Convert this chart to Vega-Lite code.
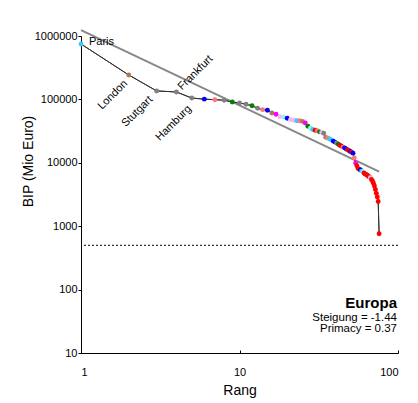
{
  "$schema": "https://vega.github.io/schema/vega-lite/v6.json",
  "autosize": {"type": "none"},
  "padding": {"left": 81, "top": 36, "right": 20, "bottom": 50},
  "width": 317,
  "height": 317,
  "background": "white",
  "config": {
    "view": {"stroke": null},
    "font": "Liberation Sans",
    "axis": {
      "grid": false,
      "domainColor": "black",
      "domainWidth": 1,
      "tickColor": "black",
      "labelColor": "black",
      "titleColor": "black",
      "labelFont": "Liberation Sans",
      "titleFont": "Liberation Sans",
      "labelFontSize": 11,
      "titleFontSize": 14,
      "titleFontWeight": "normal"
    }
  },
  "datasets": {
    "staedte": [
      {"rang": 1, "bip": 748000, "land": "FR", "name": "Paris"},
      {"rang": 2, "bip": 243000, "land": "UK", "name": "London"},
      {"rang": 3, "bip": 136000, "land": "DE", "name": "Stutgart"},
      {"rang": 4, "bip": 131000, "land": "DE", "name": "Frankfurt"},
      {"rang": 5, "bip": 105000, "land": "DE", "name": "Hamburg"},
      {"rang": 6, "bip": 101000, "land": "ES"},
      {"rang": 7, "bip": 99000, "land": "IT"},
      {"rang": 8, "bip": 97000, "land": "DE"},
      {"rang": 9, "bip": 91000, "land": "NL"},
      {"rang": 10, "bip": 88000, "land": "DE"},
      {"rang": 11, "bip": 83700, "land": "DE"},
      {"rang": 12, "bip": 79600, "land": "NL"},
      {"rang": 13, "bip": 72400, "land": "DE"},
      {"rang": 14, "bip": 68900, "land": "IT"},
      {"rang": 15, "bip": 67400, "land": "ES"},
      {"rang": 16, "bip": 61000, "land": "UK"},
      {"rang": 17, "bip": 58200, "land": "BE"},
      {"rang": 18, "bip": 53400, "land": "AT"},
      {"rang": 19, "bip": 52800, "land": "SE"},
      {"rang": 20, "bip": 50300, "land": "ES"},
      {"rang": 21, "bip": 47900, "land": "AT"},
      {"rang": 22, "bip": 47000, "land": "AT"},
      {"rang": 23, "bip": 46100, "land": "FR"},
      {"rang": 24, "bip": 46000, "land": "IT"},
      {"rang": 25, "bip": 45000, "land": "UK"},
      {"rang": 26, "bip": 42400, "land": "BE"},
      {"rang": 27, "bip": 37700, "land": "NL"},
      {"rang": 28, "bip": 35000, "land": "SE"},
      {"rang": 29, "bip": 33500, "land": "FR"},
      {"rang": 30, "bip": 32600, "land": "PL"},
      {"rang": 31, "bip": 32000, "land": "IT"},
      {"rang": 32, "bip": 30800, "land": "NL"},
      {"rang": 33, "bip": 30000, "land": "AT"},
      {"rang": 34, "bip": 29200, "land": "DE"},
      {"rang": 35, "bip": 25200, "land": "UK"},
      {"rang": 36, "bip": 24700, "land": "IT"},
      {"rang": 37, "bip": 23800, "land": "FR"},
      {"rang": 38, "bip": 23000, "land": "FR"},
      {"rang": 39, "bip": 22000, "land": "ES"},
      {"rang": 40, "bip": 21200, "land": "ES"},
      {"rang": 41, "bip": 20500, "land": "DE"},
      {"rang": 42, "bip": 19600, "land": "NL"},
      {"rang": 43, "bip": 18900, "land": "PL"},
      {"rang": 44, "bip": 18300, "land": "PL"},
      {"rang": 45, "bip": 17700, "land": "IT"},
      {"rang": 46, "bip": 17200, "land": "ES"},
      {"rang": 47, "bip": 16600, "land": "ES"},
      {"rang": 48, "bip": 16100, "land": "PL"},
      {"rang": 49, "bip": 15600, "land": "PL"},
      {"rang": 50, "bip": 15100, "land": "ES"},
      {"rang": 51, "bip": 14700, "land": "PL"},
      {"rang": 52, "bip": 14200, "land": "ES"},
      {"rang": 53, "bip": 12000, "land": "IT"},
      {"rang": 54, "bip": 9900, "land": "BE"},
      {"rang": 55, "bip": 9000, "land": "PL"},
      {"rang": 56, "bip": 8100, "land": "PL"},
      {"rang": 57, "bip": 7900, "land": "PL"},
      {"rang": 58, "bip": 7700, "land": "ES"},
      {"rang": 59, "bip": 7400, "land": "FR"},
      {"rang": 60, "bip": 7150, "land": "SE"},
      {"rang": 61, "bip": 6900, "land": "PL"},
      {"rang": 62, "bip": 6650, "land": "PL"},
      {"rang": 63, "bip": 6550, "land": "PL"},
      {"rang": 64, "bip": 6350, "land": "PL"},
      {"rang": 65, "bip": 6150, "land": "PL"},
      {"rang": 66, "bip": 6000, "land": "PL"},
      {"rang": 67, "bip": 5800, "land": "AT"},
      {"rang": 68, "bip": 5450, "land": "PL"},
      {"rang": 69, "bip": 5150, "land": "PL"},
      {"rang": 70, "bip": 4750, "land": "PL"},
      {"rang": 71, "bip": 4300, "land": "PL"},
      {"rang": 72, "bip": 3800, "land": "PL"},
      {"rang": 73, "bip": 3300, "land": "PL"},
      {"rang": 74, "bip": 2900, "land": "PL"},
      {"rang": 75, "bip": 2450, "land": "PL"},
      {"rang": 76, "bip": 760, "land": "PL"}
    ],
    "trend": [
      {"rang": 1, "bip": 1240000},
      {"rang": 76, "bip": 7240}
    ],
    "eins": [{}]
  },
  "layer": [
    {
      "data": {"name": "staedte"},
      "mark": {"type": "line", "color": "#333333", "strokeWidth": 1},
      "encoding": {
        "x": {
          "field": "rang", "type": "quantitative",
          "scale": {"type": "log", "domain": [1, 100]},
          "axis": {"title": "Rang", "values": [1, 10, 100], "format": "d", "tickSize": -3, "labelPadding": 16, "titlePadding": 6}
        },
        "y": {
          "field": "bip", "type": "quantitative",
          "scale": {"type": "log", "domain": [10, 1000000]},
          "axis": {"title": "BIP (Mio Euro)", "values": [10, 100, 1000, 10000, 100000, 1000000], "format": "d", "tickSize": 3, "labelPadding": 1, "titleAngle": 270, "titleAlign": "center", "titleBaseline": "middle", "titleX": -53, "titleY": 125}
        },
        "order": {"field": "rang"}
      }
    },
    {
      "data": {"name": "eins"},
      "mark": {"type": "rule", "color": "black", "strokeWidth": 1, "strokeDash": [2, 2]},
      "encoding": {"y": {"datum": 500, "type": "quantitative"}}
    },
    {
      "data": {"name": "trend"},
      "mark": {"type": "line", "color": "#888888", "strokeWidth": 2},
      "encoding": {
        "x": {"field": "rang", "type": "quantitative", "title": "Rang"},
        "y": {"field": "bip", "type": "quantitative", "title": "BIP (Mio Euro)"}
      }
    },
    {
      "data": {"name": "staedte"},
      "mark": {"type": "line", "color": "#333333", "strokeWidth": 1},
      "encoding": {
        "x": {"field": "rang", "type": "quantitative", "title": "Rang"},
        "y": {"field": "bip", "type": "quantitative", "title": "BIP (Mio Euro)"},
        "order": {"field": "rang"}
      }
    },
    {
      "data": {"name": "staedte"},
      "mark": {"type": "circle", "size": 24, "opacity": 1},
      "encoding": {
        "x": {"field": "rang", "type": "quantitative", "title": "Rang"},
        "y": {"field": "bip", "type": "quantitative", "title": "BIP (Mio Euro)"},
        "color": {
          "field": "land", "type": "nominal", "legend": null,
          "scale": {
            "domain": ["FR", "UK", "DE", "ES", "IT", "NL", "BE", "AT", "SE", "PL"],
            "range": ["#33CCFF", "#B07850", "#808080", "#0000FF", "#FF7878", "#008000", "#FF00FF", "#F5B8F5", "#99F0F0", "#FF0000"]
          }
        }
      }
    },
    {
      "data": {"name": "staedte"},
      "transform": [{"filter": "datum.name == 'Paris'"}],
      "mark": {"type": "text", "align": "left", "baseline": "alphabetic", "dx": 8, "dy": 1, "fontSize": 11, "color": "black"},
      "encoding": {
        "x": {"field": "rang", "type": "quantitative", "title": "Rang"},
        "y": {"field": "bip", "type": "quantitative", "title": "BIP (Mio Euro)"},
        "text": {"field": "name"}
      }
    },
    {
      "data": {"name": "staedte"},
      "transform": [{"filter": "datum.name == 'London'"}],
      "mark": {"type": "text", "align": "right", "baseline": "middle", "angle": -45, "dx": -7, "dy": 3, "fontSize": 11, "color": "black"},
      "encoding": {
        "x": {"field": "rang", "type": "quantitative", "title": "Rang"},
        "y": {"field": "bip", "type": "quantitative", "title": "BIP (Mio Euro)"},
        "text": {"field": "name"}
      }
    },
    {
      "data": {"name": "staedte"},
      "transform": [{"filter": "datum.name == 'Stutgart'"}],
      "mark": {"type": "text", "align": "right", "baseline": "middle", "angle": -45, "dx": -9, "dy": 1, "fontSize": 11, "color": "black"},
      "encoding": {
        "x": {"field": "rang", "type": "quantitative", "title": "Rang"},
        "y": {"field": "bip", "type": "quantitative", "title": "BIP (Mio Euro)"},
        "text": {"field": "name"}
      }
    },
    {
      "data": {"name": "staedte"},
      "transform": [{"filter": "datum.name == 'Hamburg'"}],
      "mark": {"type": "text", "align": "right", "baseline": "middle", "angle": -45, "dx": -8, "dy": 5, "fontSize": 11, "color": "black"},
      "encoding": {
        "x": {"field": "rang", "type": "quantitative", "title": "Rang"},
        "y": {"field": "bip", "type": "quantitative", "title": "BIP (Mio Euro)"},
        "text": {"field": "name"}
      }
    },
    {
      "data": {"name": "staedte"},
      "transform": [{"filter": "datum.name == 'Frankfurt'"}],
      "mark": {"type": "text", "align": "left", "baseline": "middle", "angle": -45, "dx": 5, "dy": 0, "fontSize": 11, "color": "black"},
      "encoding": {
        "x": {"field": "rang", "type": "quantitative", "title": "Rang"},
        "y": {"field": "bip", "type": "quantitative", "title": "BIP (Mio Euro)"},
        "text": {"field": "name"}
      }
    },
    {
      "data": {"name": "eins"},
      "mark": {"type": "text", "align": "right", "baseline": "alphabetic", "dx": -1, "fontSize": 15, "fontWeight": "bold", "color": "black"},
      "encoding": {
        "x": {"datum": 100, "type": "quantitative"},
        "y": {"datum": 51, "type": "quantitative"},
        "text": {"value": "Europa"}
      }
    },
    {
      "data": {"name": "eins"},
      "mark": {"type": "text", "align": "right", "baseline": "alphabetic", "dx": -1, "dy": 13, "fontSize": 11.5, "color": "black"},
      "encoding": {
        "x": {"datum": 100, "type": "quantitative"},
        "y": {"datum": 51, "type": "quantitative"},
        "text": {"value": "Steigung = -1.44"}
      }
    },
    {
      "data": {"name": "eins"},
      "mark": {"type": "text", "align": "right", "baseline": "alphabetic", "dx": -1, "dy": 24, "fontSize": 11.5, "color": "black"},
      "encoding": {
        "x": {"datum": 100, "type": "quantitative"},
        "y": {"datum": 51, "type": "quantitative"},
        "text": {"value": "Primacy = 0.37"}
      }
    }
  ]
}
